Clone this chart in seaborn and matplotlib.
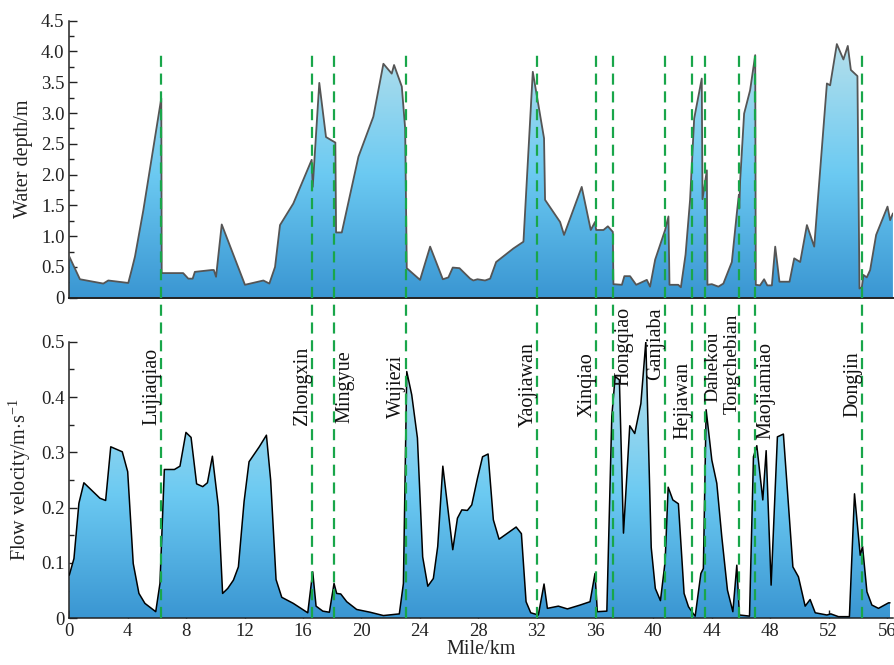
import numpy as np
import pandas as pd
import matplotlib
matplotlib.use('Agg')
import matplotlib.pyplot as plt
import seaborn as sns
from matplotlib.colors import LinearSegmentedColormap
from matplotlib.ticker import MultipleLocator, FuncFormatter

# 数据
depth_km = [0, 0.73, 2.33, 2.67, 4.04, 4.27, 4.5, 5.07, 6.3, 6.33, 7.8, 8.15, 8.45, 8.6,
            9.75, 9.9, 10.05, 10.44, 12.03, 13.29, 13.7, 14.09, 14.43, 15.34, 16.6, 16.67,
            17.12, 17.58, 18.22, 18.27, 18.66, 19.8, 20.82, 21.51, 22.08, 22.24, 22.77, 23.0,
            23.11, 24.02, 24.71, 25.58, 25.96, 26.26, 26.72, 27.45, 27.67, 27.95, 28.47, 28.82,
            29.23, 30.41, 31.1, 31.74, 32.51, 32.58, 33.61, 33.88, 35.09, 35.71, 36.0, 36.08,
            36.58, 36.88, 37.22, 37.26, 37.84, 38.01, 38.4, 38.82, 39.55, 39.77, 40.12, 40.8,
            41.03, 41.1, 41.7, 41.88, 42.2, 42.51, 42.79, 43.31, 43.36, 43.66, 43.7, 44.0,
            44.45, 44.79, 45.37, 45.71, 45.85, 45.88, 45.94, 46.21, 46.62, 46.97, 47.01, 47.3,
            47.58, 47.8, 48.11, 48.34, 48.63, 49.32, 49.64, 50.05, 50.51, 51.01, 51.88, 52.1,
            52.56, 53.01, 53.31, 53.52, 53.97, 54.11, 54.27, 54.38, 54.61, 54.84, 55.25, 56.03,
            56.21, 56.4]
depth_m = [0.67, 0.30, 0.23, 0.28, 0.24, 0.45, 0.67, 1.42, 3.24, 0.40, 0.40, 0.31, 0.31, 0.42,
           0.45, 0.45, 0.34, 1.19, 0.21, 0.28, 0.23, 0.50, 1.18, 1.53, 2.24, 1.80,
           3.49, 2.61, 2.52, 1.06, 1.06, 2.29, 2.94, 3.80, 3.64, 3.78, 3.43, 2.75,
           0.48, 0.29, 0.83, 0.30, 0.33, 0.49, 0.48, 0.31, 0.28, 0.30, 0.28, 0.31,
           0.58, 0.80, 0.91, 3.67, 2.59, 1.59, 1.23, 1.02, 1.80, 1.10, 1.23, 1.10,
           1.10, 1.16, 1.07, 0.22, 0.21, 0.35, 0.35, 0.21, 0.29, 0.18, 0.62, 1.10,
           1.32, 0.21, 0.21, 0.17, 0.70, 1.59, 2.91, 3.56, 1.60, 2.07, 0.21, 0.22,
           0.18, 0.23, 0.58, 1.37, 1.67, 1.45, 1.91, 2.99, 3.37, 3.94, 0.21, 0.20,
           0.30, 0.20, 0.20, 0.83, 0.26, 0.26, 0.64, 0.58, 1.18, 0.83, 3.48, 3.45,
           4.12, 3.87, 4.09, 3.70, 3.60, 0.15, 0.17, 0.37, 0.33, 0.45, 1.02, 1.48,
           1.26, 1.37]

vel_km = [0, 0.32, 0.66, 1.0, 2.1, 2.49, 2.84, 3.63, 4.0, 4.38, 4.77, 5.18, 5.92, 6.21, 6.51,
          7.2, 7.58, 7.99, 8.34, 8.72, 9.14, 9.46, 9.8, 10.21, 10.5, 10.85, 11.24, 11.58, 11.97,
          12.31, 13.01, 13.5, 13.79, 14.16, 14.55, 15.34, 16.33, 16.67, 16.9, 17.36, 17.81,
          18.13, 18.31, 18.59, 19.0, 19.68, 20.6, 21.51, 22.6, 22.88, 23.11, 23.45, 23.84,
          24.2, 24.55, 24.93, 25.23, 25.58, 26.26, 26.58, 26.88, 27.26, 27.56, 27.95, 28.3,
          28.68, 29.04, 29.43, 30.6, 30.96, 31.28, 31.6, 32.12, 32.51, 32.74, 33.49, 34.11,
          34.98, 35.66, 36.0, 36.16, 36.81, 37.15, 37.38, 37.67, 37.95, 38.38, 38.72, 39.14,
          39.48, 39.85, 40.13, 40.48, 40.8, 41.01, 41.33, 41.71, 42.1, 42.4, 42.74, 42.86,
          43.25, 43.42, 43.61, 44.0, 44.34, 44.68, 45.07, 45.44, 45.71, 45.89, 46.58, 46.85,
          47.08, 47.49, 47.72, 48.06, 48.49, 48.9, 49.55, 49.93, 50.39, 50.73, 51.08, 51.88,
          52.15, 52.67, 53.42, 53.77, 54.16, 54.32, 54.62, 54.96, 55.41, 56.1, 56.2]
vel_ms = [0.078, 0.108, 0.208, 0.245, 0.217, 0.213, 0.310, 0.301, 0.265, 0.099, 0.045, 0.027,
          0.012, 0.063, 0.269, 0.269, 0.275, 0.336, 0.327, 0.243, 0.238, 0.245, 0.293, 0.202,
          0.045, 0.054, 0.069, 0.093, 0.211, 0.283, 0.310, 0.331, 0.250, 0.070, 0.038, 0.027,
          0.010, 0.084, 0.022, 0.013, 0.011, 0.063, 0.045, 0.044, 0.030, 0.016, 0.011, 0.005,
          0.008, 0.063, 0.446, 0.404, 0.326, 0.111, 0.058, 0.072, 0.130, 0.275, 0.124, 0.181,
          0.196, 0.195, 0.205, 0.253, 0.292, 0.297, 0.178, 0.143, 0.165, 0.153, 0.030, 0.010,
          0.006, 0.062, 0.018, 0.022, 0.017, 0.024, 0.030, 0.081, 0.012, 0.013, 0.365, 0.437,
          0.431, 0.154, 0.348, 0.334, 0.388, 0.500, 0.128, 0.054, 0.032, 0.102, 0.237, 0.214,
          0.207, 0.045, 0.021, 0.008, 0.004, 0.081, 0.090, 0.377, 0.286, 0.244, 0.148, 0.051,
          0.012, 0.096, 0.006, 0.004, 0.292, 0.312, 0.214, 0.303, 0.060, 0.328, 0.333, 0.093,
          0.075, 0.022, 0.034, 0.010, 0.006, 0.008, 0.003, 0.003, 0.225, 0.114, 0.130, 0.048,
          0.024, 0.018, 0.028, 0.028]

stations = ['Lujiaqiao', 'Zhongxin', 'Mingyue', 'Wujiezi', 'Yaojiawan', 'Xinqiao', 'Hongqiao',
            'Ganjiaba', 'Hejiawan', 'Dahekou', 'Tongchebian', 'Maojiamiao', 'Dongjin']
station_km = [6.28, 16.62, 18.15, 23.04, 32.06, 36.1, 37.26, 40.8, 42.65, 43.56, 45.85, 46.99, 54.3]
label_top = [0.489, 0.49, 0.485, 0.476, 0.50, 0.48, 0.563, 0.561, 0.464, 0.518, 0.551, 0.50, 0.482]
label_side = ['l', 'l', 'r', 'l', 'l', 'l', 'r', 'l', 'l', 'r', 'l', 'r', 'l']

df_depth = pd.DataFrame({'km': depth_km, 'depth': depth_m})
df_vel = pd.DataFrame({'km': vel_km, 'vel': vel_ms})

sns.set_style('ticks')
plt.rcParams['font.family'] = ['Liberation Serif', 'DejaVu Serif']
plt.rcParams['mathtext.fontset'] = 'custom'
plt.rcParams['mathtext.rm'] = 'Liberation Serif'
plt.rcParams['mathtext.it'] = 'Liberation Serif:italic'

cmap = LinearSegmentedColormap.from_list(
    'water', [(0.0, '#3a96d2'), (0.45, '#6ccaf2'), (1.0, '#c2e3ea')])

fig = plt.figure(figsize=(8.95, 6.65), dpi=100)
ax1 = fig.add_axes([0.0774, 0.5523, 0.9206, 0.4166])
ax2 = fig.add_axes([0.0774, 0.0702, 0.9206, 0.4160])
xmax = 56.42


def gradient_area(ax, x, y, ymax):
    poly = ax.fill_between(x, 0, y, color='none', lw=0)
    grad = np.linspace(0, 1, 256).reshape(-1, 1)
    im = ax.imshow(grad, cmap=cmap, origin='lower', aspect='auto',
                   extent=[0, xmax, 0, ymax], zorder=1)
    im.set_clip_path(poly.get_paths()[0], transform=ax.transData)


gradient_area(ax1, depth_km, depth_m, 4.5)
sns.lineplot(data=df_depth, x='km', y='depth', ax=ax1, color='#555555', lw=1.3,
             sort=False, estimator=None, zorder=3)
gradient_area(ax2, vel_km, vel_ms, 0.5)
sns.lineplot(data=df_vel, x='km', y='vel', ax=ax2, color='black', lw=1.1,
             sort=False, estimator=None, zorder=3)

green = '#19a64a'
for xs in station_km:
    ax1.plot([xs, xs], [0, 4.0], color=green, lw=1.6, dashes=(5, 3), zorder=4)
    ax2.plot([xs, xs], [0, 0.58], color=green, lw=1.6, dashes=(5, 3), zorder=4,
             clip_on=False)

# 站点标签的水平微调
nudge = {'Dahekou': -0.07, 'Tongchebian': 0.14}
for name, xs, yt, side in zip(stations, station_km, label_top, label_side):
    dx = nudge.get(name, 0.06 if side == 'r' else 0.0)
    fs = 14 if name in nudge else 14.5
    ax2.text(xs + dx, yt, name, rotation=90,
             ha='left' if side == 'r' else 'right', va='top', fontsize=fs,
             color='#111111', zorder=5)

for ax in (ax1, ax2):
    ax.set_xlim(0, xmax)
    sns.despine(ax=ax)
    for s in ('left', 'bottom'):
        ax.spines[s].set_color('#222222')
        ax.spines[s].set_linewidth(1.1)
    ax.tick_params(which='both', direction='in', colors='#222222', labelsize=13.5, width=1)
    ax.tick_params(which='major', length=6)
    ax.tick_params(which='minor', length=3.5)
    ax.set_xlabel('')
    ax.set_ylabel('')

ax1.set_ylim(0, 4.5)
ax1.yaxis.set_major_locator(MultipleLocator(0.5))
ax1.yaxis.set_minor_locator(MultipleLocator(0.25))
ax1.yaxis.set_major_formatter(FuncFormatter(lambda v, p: '0' if v == 0 else f'{v:.1f}'))
ax1.set_xticks([])
ax1.spines['bottom'].set_linewidth(1.4)
ax1.set_ylabel('Water depth/m', fontsize=14.5, color='#222222', labelpad=6)

ax2.set_ylim(0, 0.5)
ax2.yaxis.set_major_locator(MultipleLocator(0.1))
ax2.yaxis.set_minor_locator(MultipleLocator(0.05))
ax2.yaxis.set_major_formatter(FuncFormatter(lambda v, p: '0' if v == 0 else f'{v:.1f}'))
ax2.set_xticks(np.arange(0, 57, 4))
ax2.set_ylabel(r'Flow velocity/m$\cdot$s$^{-1}$', fontsize=14.5, color='#222222', labelpad=6)
ax2.set_xlabel('Mile/km', fontsize=14.5, color='#222222', labelpad=0)

fig.savefig('out.png', dpi=100)
